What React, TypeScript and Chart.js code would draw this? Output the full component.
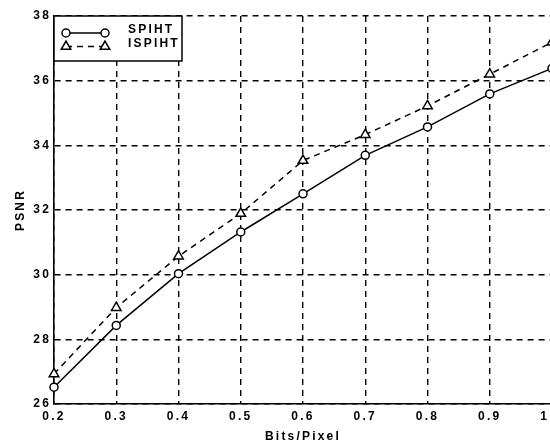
import React, { useEffect, useRef } from 'react';
import { Chart, registerables } from 'chart.js';

Chart.register(...registerables);

const bitsPerPixel = [0.2, 0.3, 0.4, 0.5, 0.6, 0.7, 0.8, 0.9, 1.0];
const spihtPSNR = [26.52, 28.43, 30.03, 31.32, 32.5, 33.69, 34.57, 35.59, 36.38];
const ispihtPSNR = [26.93, 28.98, 30.57, 31.89, 33.53, 34.33, 35.22, 36.2, 37.19];
const yTickValues = [26, 28, 30, 32, 34, 36, 38];
const seriesNames = ['SPIHT', 'ISPIHT'];
const xAxisTitle = 'Bits/Pixel';
const yAxisTitle = 'PSNR';

const FONT_FAMILY = '"Liberation Sans", Arial, sans-serif';
const LETTER_SPACING = '2.2px';

const spacingPlugin = {
  id: 'spacing',
  beforeDraw(chart: any) {
    (chart.ctx as any).letterSpacing = LETTER_SPACING;
  },
};

function drawTriangle(ctx: CanvasRenderingContext2D, x: number, y: number, r: number) {
  ctx.beginPath();
  for (let k = 0; k < 3; k++) {
    const a = (k * 2 * Math.PI) / 3;
    const px = x + Math.sin(a) * r;
    const py = y - Math.cos(a) * r;
    if (k === 0) ctx.moveTo(px, py);
    else ctx.lineTo(px, py);
  }
  ctx.closePath();
  ctx.fill();
  ctx.stroke();
}

const legendPlugin = {
  id: 'boxLegend',
  afterDraw(chart: any) {
    const ctx: CanvasRenderingContext2D = chart.ctx;
    const left = chart.chartArea.left;
    const top = chart.chartArea.top;
    ctx.save();
    (ctx as any).letterSpacing = LETTER_SPACING;
    ctx.fillStyle = '#fff';
    ctx.fillRect(left, top, 128, 45);
    ctx.strokeStyle = '#000';
    ctx.lineWidth = 1.5;
    ctx.setLineDash([]);
    ctx.strokeRect(left, top, 128, 45);

    const x1 = left + 12;
    const x2 = left + 51;
    // row 1
    const y1 = top + 17;
    ctx.beginPath();
    ctx.moveTo(x1, y1);
    ctx.lineTo(x2, y1);
    ctx.stroke();
    ctx.fillStyle = '#fff';
    for (const x of [x1, x2]) {
      ctx.beginPath();
      ctx.arc(x, y1, 4, 0, Math.PI * 2);
      ctx.fill();
      ctx.stroke();
    }
    // row 2
    const y2 = top + 30.5;
    ctx.setLineDash([6, 5]);
    ctx.beginPath();
    ctx.moveTo(x1, y2);
    ctx.lineTo(x2, y2);
    ctx.stroke();
    ctx.setLineDash([]);
    for (const x of [x1, x2]) drawTriangle(ctx, x, y2, 5.5);

    ctx.fillStyle = '#000';
    ctx.font = `bold 12px ${FONT_FAMILY}`;
    ctx.textAlign = 'left';
    ctx.textBaseline = 'middle';
    ctx.fillText(seriesNames[0], left + 74, top + 14);
    ctx.fillText(seriesNames[1], left + 74, top + 27.5);
    ctx.restore();
  },
};

export default function App() {
  const ref = useRef<HTMLCanvasElement>(null);

  useEffect(() => {
    const font = { family: FONT_FAMILY, size: 12, weight: 'bold' as const };
    const gridOpts = { color: '#000', lineWidth: 1.4, drawTicks: false };
    const borderOpts = { display: true, color: '#000', width: 1.6, dash: [6, 5] };
    const chart = new Chart(ref.current as HTMLCanvasElement, {
      type: 'line',
      data: {
        datasets: [
          {
            label: seriesNames[0],
            data: bitsPerPixel.map((x, i) => ({ x, y: spihtPSNR[i] })),
            borderColor: '#000',
            borderWidth: 1.5,
            pointStyle: 'circle',
            pointRadius: 4,
            pointBorderWidth: 1.5,
            pointBackgroundColor: '#fff',
            pointBorderColor: '#000',
            tension: 0,
            clip: false as any,
          },
          {
            label: seriesNames[1],
            data: bitsPerPixel.map((x, i) => ({ x, y: ispihtPSNR[i] })),
            borderColor: '#000',
            borderWidth: 1.5,
            borderDash: [6, 5],
            pointStyle: 'triangle',
            pointRadius: 5.5,
            pointBorderWidth: 1.5,
            pointBackgroundColor: '#fff',
            pointBorderColor: '#000',
            tension: 0,
            clip: false as any,
          },
        ],
      },
      options: {
        responsive: false,
        animation: false,
        devicePixelRatio: 1,
        layout: { padding: { top: 16, right: 18, left: 0, bottom: 0 } },
        plugins: { legend: { display: false }, tooltip: { enabled: false } },
        scales: {
          x: {
            type: 'linear',
            min: 0.2,
            max: 1.0,
            afterBuildTicks: (s: any) => {
              s.ticks = bitsPerPixel.map((v) => ({ value: v }));
            },
            afterFit: (s: any) => {
              s.height = 37;
            },
            grid: gridOpts,
            border: borderOpts,
            ticks: {
              color: '#000',
              font,
              padding: 5,
              maxRotation: 0,
              autoSkip: false,
              callback: (v: any) => Number(v).toFixed(1),
            },
            title: {
              display: true,
              text: xAxisTitle,
              color: '#000',
              font,
              padding: { top: 0, bottom: -2.5 },
            },
          },
          y: {
            type: 'linear',
            min: 26,
            max: 38,
            afterBuildTicks: (s: any) => {
              s.ticks = yTickValues.map((v) => ({ value: v }));
            },
            afterFit: (s: any) => {
              s.width = 54;
            },
            grid: gridOpts,
            border: borderOpts,
            ticks: {
              color: '#000',
              font,
              padding: 3,
              autoSkip: false,
              callback: (v: any) => String(v),
            },
            title: {
              display: true,
              text: yAxisTitle,
              color: '#000',
              font,
              padding: { top: 13, bottom: 0 },
            },
          },
        },
      },
      plugins: [spacingPlugin, legendPlugin],
    });
    return () => chart.destroy();
  }, []);

  return (
    <div
      style={{
        position: 'fixed',
        left: 0,
        top: 0,
        width: 550,
        height: 441,
        overflow: 'hidden',
        background: '#fff',
      }}
    >
      <canvas ref={ref} width={570} height={441} style={{ display: 'block', width: 570, height: 441 }} />
    </div>
  );
}
